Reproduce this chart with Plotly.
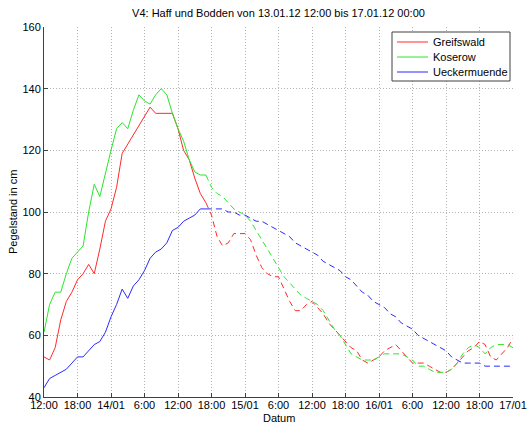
import plotly.graph_objects as go
import pandas as pd

# ---- data (water level in cm), hourly from 13.01.12 12:00 ----
start = pd.Timestamp("2012-01-13 12:00")
meas_hours = list(range(0, 30))
fc_hours = list(range(29, 85))

greifswald_meas = [53, 52, 56, 65, 71, 74, 78, 80, 83, 80, 88, 97, 101, 108, 119,
                   122, 125, 128, 131, 134, 132, 132, 132, 132, 127, 120, 117, 111, 106, 103]
koserow_meas = [61, 70, 74, 74, 80, 85, 87, 89, 100, 109, 105, 113, 120, 127, 129,
                127, 133, 138, 136, 135, 138, 140, 138, 132, 127, 123, 117, 113, 112, 112]
ueckermuende_meas = [43, 46, 47, 48, 49, 51, 53, 53, 55, 57, 58, 61, 66, 70, 75,
                     72, 76, 78, 81, 85, 87, 88, 90, 94, 95, 97, 98, 99, 101, 101]

greifswald_fc = [103, 99, 92, 89, 90, 93, 93, 93, 91, 86, 82, 80, 79, 79, 75, 71, 68, 68,
                 70, 71, 69, 67, 64, 62, 60, 58, 56, 55, 52, 51, 52, 53, 55, 56, 57, 55,
                 53, 51, 51, 51, 50, 49, 48, 48, 49, 51, 53, 55, 56, 58, 57, 53, 52, 54,
                 56, 59]
koserow_fc = [112, 108, 106, 105, 103, 101, 100, 99, 97, 94, 91, 88, 85, 82, 79, 77, 75, 73,
              72, 71, 70, 68, 65, 62, 60, 57, 54, 53, 52, 52, 52, 53, 54, 54, 54, 54,
              53, 52, 50, 50, 49, 48, 48, 48, 49, 51, 54, 56, 57, 56, 54, 56, 57, 57,
              57, 56]
ueckermuende_fc = [101, 101, 101, 101, 100, 100, 99, 99, 98, 97, 97, 96, 95, 94, 93, 92, 90, 89,
                   88, 87, 86, 84, 83, 82, 81, 79, 78, 76, 74, 73, 71, 70, 69, 67, 66, 64,
                   63, 62, 60, 59, 58, 57, 56, 55, 53, 52, 51, 51, 51, 51, 50, 50, 50, 50,
                   50, 50]

stations = ["Greifswald", "Koserow", "Ueckermuende"]
tick_hours = list(range(0, 85, 6))
tick_labels = ["12:00", "18:00", "14/01", "6:00", "12:00", "18:00", "15/01", "6:00",
               "12:00", "18:00", "16/01", "6:00", "12:00", "18:00", "17/01"]
y_ticks = [40, 60, 80, 100, 120, 140, 160]

colors = ["#ff2a2a", "#2ae62a", "#2a2aff"]


def to_time(hours):
    return [start + pd.Timedelta(hours=h) for h in hours]


fig = go.Figure()
meas = [greifswald_meas, koserow_meas, ueckermuende_meas]
fc = [greifswald_fc, koserow_fc, ueckermuende_fc]
for name, col, m in zip(stations, colors, meas):
    fig.add_trace(go.Scatter(x=to_time(meas_hours), y=m, mode="lines", name=name,
                             line=dict(color=col, width=1)))
for name, col, f in zip(stations, colors, fc):
    fig.add_trace(go.Scatter(x=to_time(fc_hours), y=f, mode="lines", name=name + " (Vorhersage)",
                             line=dict(color=col, width=1, dash="6px,4px")))

font = "Liberation Sans, Arial, sans-serif"

# plot-area geometry in pixels (for the hand-built legend box)
L, R, T, B = 44, 513, 27, 397
W, H = R - L, B - T


def px(xp):
    return (xp - L) / W


def py(yp):
    return (B - yp) / H


shapes = [dict(type="rect", xref="paper", yref="paper", x0=px(392), x1=px(510),
               y0=py(81), y1=py(32), line=dict(color="#404040", width=1),
               fillcolor="white", layer="above")]
annotations = []
for i, (name, col) in enumerate(zip(stations, colors)):
    yy = 42 + 15 * i
    shapes.append(dict(type="line", xref="paper", yref="paper", x0=px(397), x1=px(428),
                       y0=py(yy), y1=py(yy), line=dict(color=col, width=1), layer="above"))
    annotations.append(dict(text=name, xref="paper", yref="paper", x=px(431), y=py(yy),
                            xanchor="left", yanchor="middle", showarrow=False,
                            font=dict(size=11, family=font)))
annotations.append(dict(text="Datum", xref="paper", yref="paper", x=0.5, y=py(418),
                        xanchor="center", yanchor="middle", showarrow=False,
                        font=dict(size=11, family=font)))
annotations.append(dict(text="Pegelstand in cm", xref="paper", yref="paper", x=px(13), y=0.5,
                        xanchor="center", yanchor="middle", showarrow=False, textangle=-90,
                        font=dict(size=11, family=font)))

fig.update_layout(
    width=527, height=425,
    margin=dict(l=L, r=527 - R, t=T, b=425 - B),
    paper_bgcolor="white", plot_bgcolor="white",
    font=dict(family=font, size=11, color="black"),
    title=dict(text="V4: Haff und Bodden von 13.01.12 12:00 bis 17.01.12 00:00",
               x=(278.5 / 527), xanchor="center", y=1 - 13 / 425, yanchor="middle",
               font=dict(size=11, family=font)),
    showlegend=False,
    shapes=shapes,
    annotations=annotations,
)
fig.update_xaxes(
    range=[start, start + pd.Timedelta(hours=84)],
    tickmode="array", tickvals=to_time(tick_hours), ticktext=tick_labels,
    tickfont=dict(size=11, family=font),
    ticks="inside", ticklen=4, tickcolor="#404040",
    showline=True, linecolor="#404040", linewidth=1,
    showgrid=True, gridcolor="#b4b4b4", griddash="1px,2px", gridwidth=1,
    zeroline=False, automargin=False, ticklabelstandoff=-2,
)
fig.update_yaxes(
    range=[40, 160], tickmode="array", tickvals=y_ticks,
    tickfont=dict(size=11, family=font),
    ticks="inside", ticklen=4, tickcolor="#404040",
    showline=True, linecolor="#404040", linewidth=1,
    showgrid=True, gridcolor="#b4b4b4", griddash="1px,2px", gridwidth=1,
    zeroline=False, automargin=False,
)
fig.write_html("out.html", config={"displayModeBar": False},
               post_script="document.body.style.margin='0px';")
